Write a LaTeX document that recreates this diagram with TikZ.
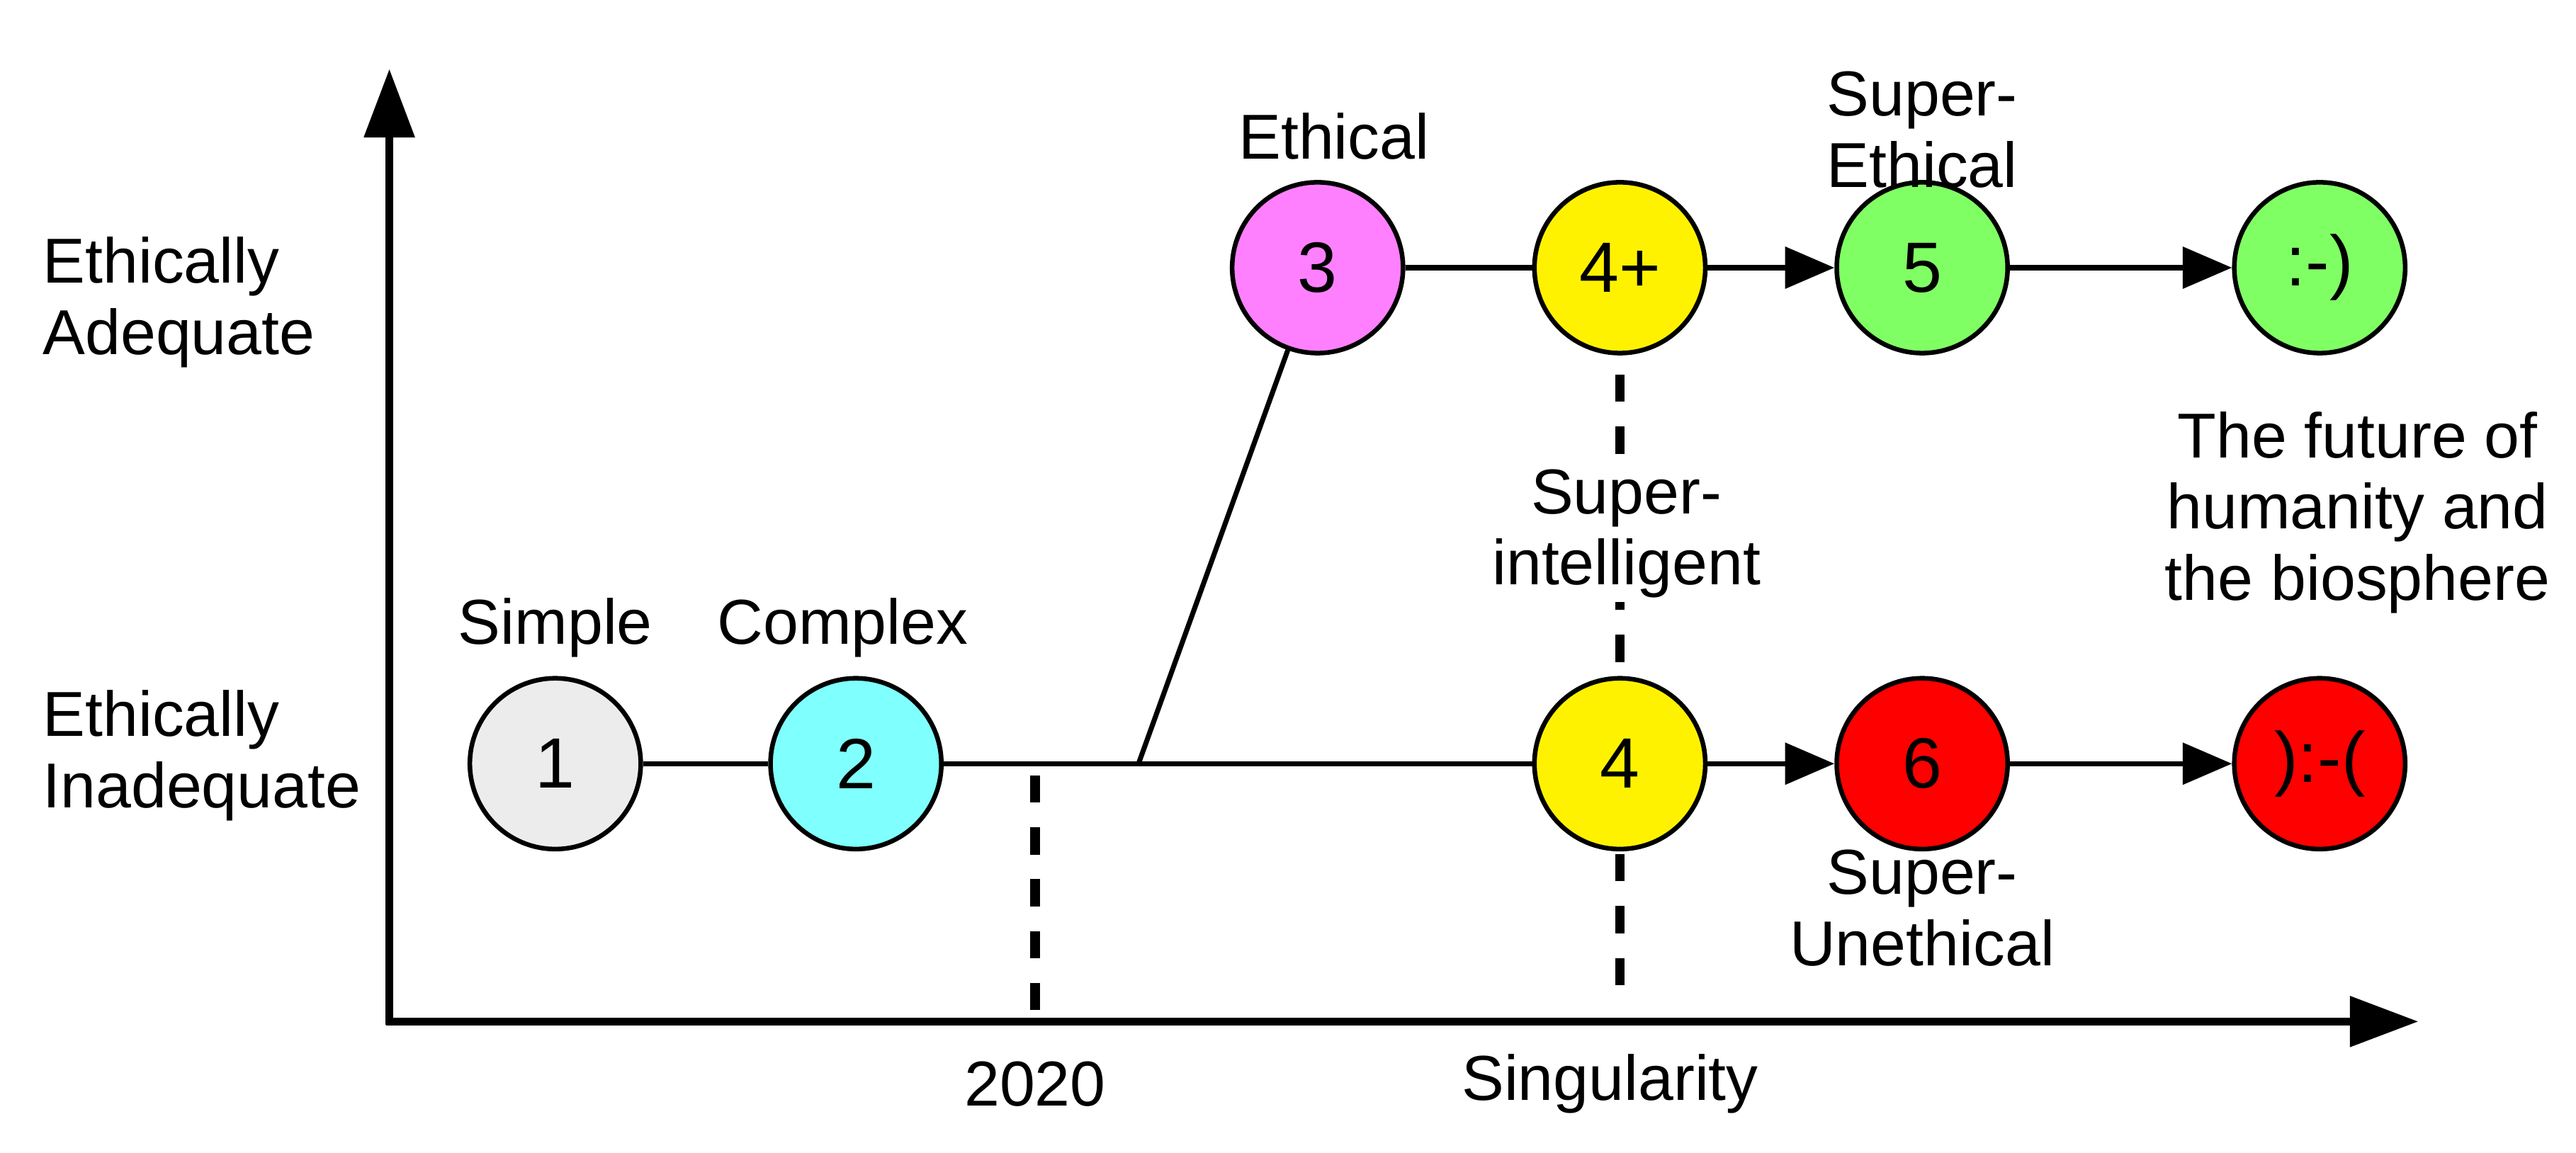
\documentclass[tikz,border=0pt]{standalone}
\usepackage{fontspec}
\setmainfont{Liberation Sans}
\usetikzlibrary{arrows.meta}
\begin{document}
\begin{tikzpicture}[x=0.03cm,y=-0.03cm,
  st/.style={circle,draw=black,line width=2.4pt,minimum size=3.12cm,inner sep=0pt,font=\fontsize{37}{40}\selectfont},
  lab/.style={font=\fontsize{33}{37}\selectfont,align=center},
  ln/.style={line width=2.6pt},
  arr/.style={line width=2.6pt,-{Triangle[length=0.9cm,width=0.75cm]}},
  dsh/.style={line width=5pt,dash pattern=on 0.5cm off 0.45cm},
  ax/.style={line width=4pt,-{Triangle[length=1.25cm,width=0.9cm]}}]
\useasboundingbox (0,0) rectangle (1568,702);
\coordinate (yt) at (237,42);
\coordinate (xt) at (1472,622);
\draw[ax] (237,624) -- (yt);
\draw[ax] (235,622) -- (xt);
\node[st,fill=gray!15] (n1) at (338,465) {1};
\node[st,fill={rgb,255:red,128;green,255;blue,255}] (n2) at (521,465) {2};
\node[st,fill={rgb,255:red,255;green,128;blue,255}] (n3) at (802,163) {3};
\node[st,fill=yellow] (n4p) at (986,163) {4+};
\node[st,fill={rgb,255:red,128;green,255;blue,100}] (n5) at (1170,163) {5};
\node[st,fill={rgb,255:red,128;green,255;blue,100}] (nh) at (1412,163) {:-)};
\node[st,fill=yellow] (n4) at (986,465) {4};
\node[st,fill=red] (n6) at (1170,465) {6};
\node[st,fill=red] (ns) at (1412,465) {):-(};
\coordinate (br) at (693,465);
\draw[ln] (n1) -- (n2);
\draw[ln] (n2) -- (n4);
\draw[ln] (br) -- (n3);
\draw[ln] (n3) -- (n4p);
\draw[arr] (n4p) -- (n5);
\draw[arr] (n5) -- (nh);
\draw[arr] (n4) -- (n6);
\draw[arr] (n6) -- (ns);
\coordinate (d1a) at (630,472); \coordinate (d1b) at (630,615);
\draw[dsh] (d1a) -- (d1b);
\coordinate (d2a) at (986,228); \coordinate (d2b) at (986,405);
\draw[dsh] (d2a) -- (d2b);
\coordinate (d3a) at (986,520); \coordinate (d3b) at (986,615);
\draw[dsh] (d3a) -- (d3b);
\node[lab] (l1) at (338,382) {Simple};
\node[lab] (l2) at (513,382) {Complex};
\node[lab] (l3) at (812,83) {Ethical};
\node[lab] (l5) at (1170,79) {Super-\\Ethical};
\node[lab,fill=white,inner sep=2pt] (l4) at (990,325) {Super-\\intelligent};
\node[lab] (lf) at (1435,312) {The future of\\humanity and\\the biosphere};
\node[lab] (l6) at (1170,553) {Super-\\Unethical};
\node[lab] (ly) at (630,660) {2020};
\node[lab] (ls) at (980,660) {Singularity};
\node[lab,align=left,anchor=west] (la) at (22,184) {Ethically\\Adequate};
\node[lab,align=left,anchor=west] (li) at (22,460) {Ethically\\Inadequate};
\end{tikzpicture}
\end{document}
